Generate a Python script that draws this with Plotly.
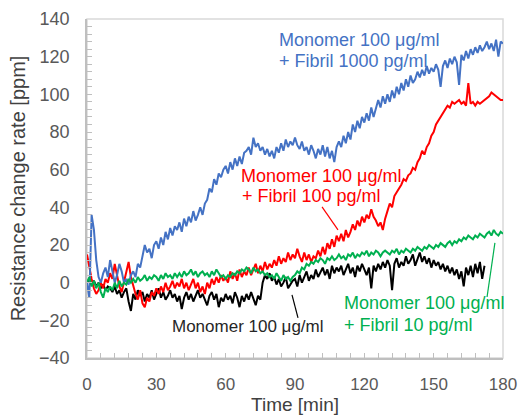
import plotly.graph_objects as go

# time axis (min)
time = list(range(0, 181))
time_black = list(range(0, 173))

blue = [0, -8, 36, 28, 12, 3, 0, 5, 8, 3,
        12, 6, 0, 4, 10, 6, 0, 2, -1, 4,
        6, 3, 10, 8, 14, 20, 16, 18, 13, 20,
        22, 18, 24, 20, 27, 23, 29, 25, 30, 28,
        32, 27, 34, 30, 35, 32, 38, 33, 36, 40,
        36, 42, 44, 50, 48, 55, 52, 58, 56, 60,
        62, 58, 64, 60, 66, 62, 67, 63, 69, 70,
        72, 68, 77, 72, 74, 70, 72, 68, 71, 67,
        70, 66, 72, 69, 74, 70, 76, 72, 75, 73,
        77, 73, 71, 75, 70, 72, 68, 73, 70, 66,
        71, 68, 73, 67, 72, 66, 70, 64, 72, 75,
        72, 78, 74, 80, 76, 84, 80, 86, 82, 88,
        85, 90, 86, 93, 88, 92, 97, 93, 99, 95,
        100, 96, 102, 98, 104, 100, 106, 102, 108, 104,
        110, 106, 108, 112, 109, 113, 110, 115, 111, 114,
        112, 116, 113, 104, 115, 118, 114, 119, 116, 120,
        117, 105, 121, 118, 123, 119, 124, 121, 125, 122,
        126, 123, 125, 128, 124, 127, 123, 129, 120, 128, 127]

red = [15, 8, 2, -3, -6, -4, 0, -3, 2, 0,
       5, 2, 10, 4, -2, -5, 0, 6, 11, 3,
       -2, -6, -9, -4, -11, -13, -8, -10, -5, -7,
       -3, -6, -2, -5, 0, -4, -2, 1, -3, 0,
       -2, 2, -3, 0, -4, -1, 2, -3, 0, -5,
       -2, -6, 0, -3, 2, -1, 3, 0, 4, 1,
       3, 0, 6, 2, 5, 1, 7, 3, 6, 4,
       8, 4, 7, 10, 5, 9, 6, 11, 7, 10,
       8, 12, 9, 14, 10, 13, 11, 16, 12, 15,
       13, 18, 14, 11, 16, 12, 15, 11, 14, 13,
       17, 14, 19, 15, 21, 18, 23, 19, 25, 22,
       26, 22, 28, 24, 27, 31, 28, 33, 30, 35,
       32, 36, 34, 39, 35, 33, 30, 32, 28, 34,
       38, 42, 40, 46, 48, 50, 52, 55, 54, 57,
       58, 61, 60, 64, 66, 70, 68, 72, 74, 78,
       80, 84, 86, 88, 90, 92, 94, 93, 96, 95,
       96, 97, 95, 96, 94, 106, 95, 96, 94, 96,
       95, 96, 97, 98, 99, 101, 100, 99, 98, 97, 97]

green = [0, 3, -2, 1, -3, 0, -5, -8, -3, -5,
         -2, -4, 0, -3, 1, -2, 0, -1, 2, 0,
         2, 0, 3, 1, 2, 4, 1, 3, 2, 4,
         3, 1, 4, 2, 5, 3, 4, 2, 5, 3,
         5, 3, 6, 4, 5, 7, 4, 6, 3, 5,
         6, 4, 5, 3, 6, 4, 7, 5, 3, 4,
         2, 4, 3, 5, 4, 6, 5, 7, 6, 8,
         7, 5, 8, 6, 7, 5, 6, 4, 5, 3,
         4, 2, 5, 3, 1, 4, 2, 3, 1, 3,
         4, 6, 5, 8, 7, 10, 9, 11, 10, 12,
         11, 13, 12, 10, 13, 12, 14, 12, 13, 15,
         13, 14, 12, 15, 14, 16, 13, 15, 14, 16,
         15, 17, 14, 16, 15, 17, 16, 14, 16, 17,
         16, 15, 17, 16, 18, 15, 17, 16, 18, 17,
         16, 18, 17, 19, 18, 17, 19, 18, 20, 19,
         18, 20, 19, 21, 20, 19, 21, 22, 20, 22,
         21, 23, 22, 24, 23, 25, 24, 23, 25, 24,
         26, 25, 24, 26, 27, 25, 28, 26, 25, 27, 26]

black = [0, 2, -1, 1, -2, 0, -3, -1, -4, -2,
         -3, -5, -2, -6, -4, -8, -5, -3, -10, -15,
         -6, -9, -4, -7, -5, -10, -6, -8, -4, -9,
         -6, -3, -8, -5, -9, -7, -4, -8, -6, -10,
         -7, -14, -8, -5, -9, -6, -10, -7, -4, -8,
         -6, -9, -12, -7, -5, -9, -6, -13, -8, -10,
         -6, -9, -7, -11, -5, -8, -13, -7, -10, -6,
         -9, -5, -8, -12, -7, -9, 0, 4, 2, 5,
         1, 3, -1, 2, -2, 0, 3, -3, -1, 1,
         2, -2, 4, 0, 3, 6, 1, 4, 2, 7,
         3, 6, 8, 4, 7, 2, 9, 5, 8, 6,
         9, 4, 7, 10, 5, 8, 3, 9, 6, 10,
         7, 4, 8, -3, 9, 6, 10, 7, 11, 8,
         12, 9, -4, 10, 13, 8, 11, 9, 14, 10,
         12, 15, 9, 13, 16, 11, 14, 10, 13, 8,
         12, 9, 11, 7, 10, 6, 9, 5, 8, 4,
         7, 2, 6, -2, 8, 4, 9, 3, 10, 5,
         11, 2, 9]

series_names = ["Monomer 100 μg/ml",
                "Monomer 100 μg/ml + Fibril 10 pg/ml",
                "Monomer 100 μg/ml + Fibril 100 pg/ml",
                "Monomer 100 μg/ml + Fibril 1000 pg/ml"]
x_ticks = [0, 30, 60, 90, 120, 150, 180]
y_ticks = [-40, -20, 0, 20, 40, 60, 80, 100, 120, 140]

BLUE = "#4472C4"
RED = "#FF0000"
GREEN = "#00B050"
BLACK = "#000000"
FONT = "Liberation Sans, Arial, sans-serif"

fig = go.Figure()
fig.add_trace(go.Scatter(x=time_black, y=black, mode="lines", name=series_names[0],
                         line=dict(color=BLACK, width=2)))
fig.add_trace(go.Scatter(x=time, y=red, mode="lines", name=series_names[2],
                         line=dict(color=RED, width=2)))
fig.add_trace(go.Scatter(x=time, y=blue, mode="lines", name=series_names[3],
                         line=dict(color=BLUE, width=2)))
fig.add_trace(go.Scatter(x=time, y=green, mode="lines", name=series_names[1],
                         line=dict(color=GREEN, width=2)))

axis_gray = "#bfbfbf"
fig.update_xaxes(range=[0, 180], tickvals=x_ticks, ticks="inside", ticklen=5,
                 tickcolor=axis_gray, showline=True, linecolor=axis_gray, linewidth=1.5,
                 showgrid=False, zeroline=False, automargin=False,
                 minor=dict(dtick=6, ticks="inside", ticklen=5, tickcolor=axis_gray),
                 tickfont=dict(family=FONT, size=17, color="#595959"),
                 ticklabelstandoff=10,
                 title=dict(text="Time [min]", font=dict(family=FONT, size=19, color="#404040"),
                            standoff=11))
fig.update_yaxes(range=[-40, 140], tickvals=y_ticks, ticks="inside", ticklen=5,
                 tickcolor=axis_gray, showline=True, linecolor=axis_gray, linewidth=1.5,
                 showgrid=False, zeroline=False, automargin=False,
                 minor=dict(dtick=4, ticks="inside", ticklen=5, tickcolor=axis_gray),
                 tickfont=dict(family=FONT, size=18, color="#595959"),
                 ticklabelstandoff=12,
                 title=dict(text="Resistance change rate [ppm]",
                            font=dict(family=FONT, size=20, color="#404040"), standoff=8))

# light frame (top/right)
fig.add_shape(type="rect", xref="paper", yref="paper", x0=0, y0=0, x1=1, y1=1,
              line=dict(color="#d9d9d9", width=1.5), layer="below")

# leader lines
fig.add_shape(type="line", x0=101.7, y0=40.2, x1=108.6, y1=28.0, line=dict(color=RED, width=1.2))
fig.add_shape(type="line", x0=88.7, y0=-6.5, x1=91.3, y1=-18.7, line=dict(color=BLACK, width=1.2))
fig.add_shape(type="line", x0=176.5, y0=21.1, x1=173.1, y1=-7.6, line=dict(color=GREEN, width=1.2))

def label(text, px, py, color, size=18):
    fig.add_annotation(text=text, xref="paper", yref="paper",
                       x=(px - 87) / 416, y=(358 - py) / 339,
                       xanchor="left", yanchor="middle", showarrow=False,
                       font=dict(family=FONT, size=size, color=color))

label("Monomer 100 μg/ml", 277, 40, BLUE)
label("+ Fibril 1000 pg/ml", 277, 61, BLUE)
label("Monomer 100 μg/ml", 239, 176, RED)
label("+ Fibril 100 pg/ml", 240, 196, RED)
label("Monomer 100 μg/ml", 170, 326, "#262626", 17)
label("Monomer 100 μg/ml", 342, 303, GREEN)
label("+ Fibril 10 pg/ml", 342, 325, GREEN)

fig.update_layout(width=519, height=415, margin=dict(l=87, r=16, t=19, b=57),
                  plot_bgcolor="white", paper_bgcolor="white", showlegend=False,
                  font=dict(family=FONT))

fig.write_html("out.html", config={"displayModeBar": False},
               post_script="document.body.style.margin='0';document.body.style.padding='0';"
                           "document.body.style.overflow='hidden';")
